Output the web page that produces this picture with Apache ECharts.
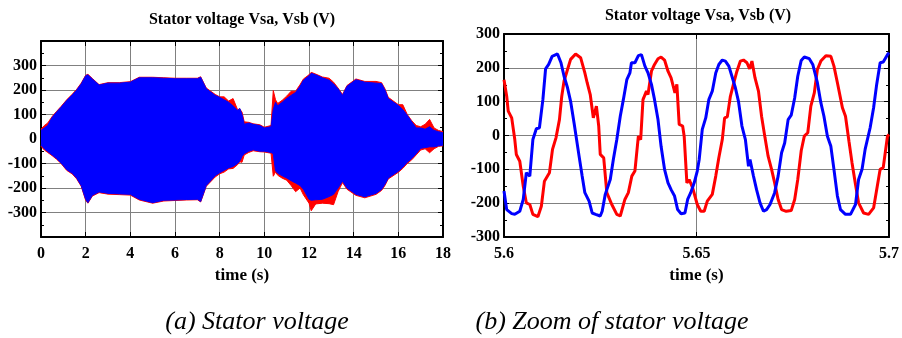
<!DOCTYPE html>
<html>
<head>
<meta charset="utf-8">
<script src="https://cdn.jsdelivr.net/npm/echarts@6/dist/echarts.min.js"></script>
<style>
html,body{margin:0;padding:0;background:#fff;}
#c{width:902px;height:338px;}
</style>
</head>
<body>
<div id="c"></div>
<script>
// ---- (a) full-run stator voltage: envelopes of the dense oscillation ----
var leftT = [0, 0.15, 0.3, 0.5, 0.7, 0.9, 1.15, 1.4, 1.6, 1.8,
  2.0, 2.1, 2.3, 2.6, 3.0, 3.5, 4.0, 4.4, 5.0, 5.5,
  6.0, 6.5, 7.0, 7.15, 7.4, 7.8, 8.0, 8.2, 8.4, 8.6,
  8.8, 8.9, 9.0, 9.1, 9.3, 9.5, 9.8, 10.0, 10.3, 10.4,
  10.5, 10.6, 10.8, 11.0, 11.2, 11.4, 11.6, 11.75, 12.0, 12.1,
  12.3, 12.6, 12.9, 13.1, 13.3, 13.5, 13.7, 14.1, 14.5, 15.0,
  15.25, 15.4, 15.55, 16.0, 16.2, 16.4, 16.6, 16.8, 17.0, 17.2,
  17.4, 17.6, 17.8, 18.0];
var vsbUpper = [35, 45, 55, 88, 110, 130, 157, 180, 200, 225,
  258, 262, 245, 220, 228, 228, 232, 250, 250, 248,
  246, 246, 246, 252, 205, 178, 170, 160, 150, 135,
  117, 125, 100, 60, 65, 60, 55, 45, 50, 120,
  150, 135, 150, 165, 178, 190, 215, 240, 258, 268,
  262, 250, 240, 225, 205, 178, 215, 242, 232, 228,
  226, 200, 165, 137, 120, 97, 70, 45, 45, 40,
  50, 35, 30, 25];
var vsaUpper = [40, 55, 65, 92, 113, 133, 160, 183, 203, 228,
  260, 264, 247, 222, 230, 230, 234, 252, 252, 250,
  248, 248, 248, 254, 208, 182, 172, 172, 155, 165,
  120, 122, 110, 70, 68, 62, 58, 48, 55, 198,
  160, 145, 158, 175, 195, 195, 222, 245, 262, 272,
  265, 253, 248, 232, 208, 182, 218, 245, 235, 235,
  230, 205, 170, 140, 140, 100, 75, 55, 50, 60,
  80, 45, 35, 30];
var vsbLower = [-25, -40, -51, -65, -80, -98, -125, -140, -160, -190,
  -246, -260, -230, -216, -222, -224, -226, -246, -260, -250,
  -249, -247, -246, -255, -190, -150, -138, -128, -118, -112,
  -100, -90, -71, -60, -50, -44, -50, -50, -55, -60,
  -130, -140, -150, -159, -170, -180, -190, -205, -246, -250,
  -248, -246, -235, -226, -200, -172, -200, -226, -236, -222,
  -206, -185, -159, -132, -115, -95, -80, -60, -38, -35,
  -32, -32, -28, -25];
var vsaLower = [-30, -45, -55, -68, -83, -100, -128, -143, -163, -193,
  -250, -262, -233, -219, -225, -227, -229, -249, -262, -253,
  -251, -249, -248, -257, -193, -155, -142, -135, -122, -120,
  -105, -93, -95, -65, -55, -48, -52, -53, -58, -152,
  -135, -148, -160, -168, -190, -215, -200, -228, -262, -293,
  -265, -262, -264, -268, -215, -178, -205, -230, -240, -226,
  -210, -190, -163, -136, -120, -100, -85, -65, -45, -40,
  -56, -40, -30, -28];

// ---- (b) zoom 5.6 - 5.7 s (time given in ms after 5.6 s) ----
var zoomStart = 5.6;
var vsaMs = [0, 0.7, 1.1, 2.0, 2.8, 3.2, 4.1, 5.0, 5.8, 6.7, 7.5, 8.8, 9.7, 10.5, 11.8, 12.6, 13.5, 14.4, 15.0, 15.6,
  16.5, 17.3, 18.6, 19.9, 21.0, 21.6, 22.4, 23.2, 24.0, 24.6, 25.0, 25.9, 26.7, 28.0, 29.3, 30.2, 31.4, 32.3, 33.2, 34.0,
  34.9, 35.5, 36.1, 37.0, 37.4, 38.3, 39.1, 40.0, 40.8, 41.7, 42.6, 43.4, 44.4, 44.9, 45.5, 46.4, 46.8, 47.5, 48.1, 49.0,
  50.2, 51.1, 52.0, 52.8, 54.1, 55.0, 55.8, 56.7, 57.3, 58.0, 58.8, 59.7, 60.5, 61.4, 62.2, 63.1, 63.8, 64.4, 65.2, 66.1,
  66.9, 67.8, 68.6, 69.5, 70.3, 71.2, 72.1, 73.3, 74.6, 75.5, 76.3, 77.2, 78.0, 78.9, 79.7, 80.6, 81.4, 82.3, 83.6, 84.9,
  85.7, 86.6, 87.9, 88.7, 89.6, 90.4, 91.3, 92.1, 93.4, 94.7, 96.0, 96.8, 97.7, 98.5, 99.6, 100];
var vsaZoom = [165, 116, 72, 52, -12, -56, -76, -150, -199, -204, -233, -240, -209, -135, -110, -41, -7, 47, 116, 161,
  195, 225, 241, 230, 185, 156, 121, 52, 87, 28, -56, -66, -169, -204, -233, -238, -189, -169, -120, -105,
  -2, -12, 106, 131, 121, 190, 210, 227, 232, 223, 190, 170, 126, 151, 33, 28, -2, -140, -130, -155,
  -204, -224, -224, -194, -174, -120, -66, -12, 52, 55, 116, 156, 190, 220, 223, 215, 197, 220, 170, 131,
  57, -7, -61, -100, -140, -189, -219, -224, -222, -189, -130, -45, -2, 8, 87, 126, 195, 220, 236, 234,
  205, 156, 82, 57, -17, -81, -145, -199, -229, -233, -214, -160, -100, -95, -2, 3];
var vsbMs = [0, 0.7, 2.0, 2.8, 4.1, 5.0, 5.8, 6.7, 7.5, 8.4, 9.2, 10.1, 10.8, 11.6, 12.5, 13.9, 14.8, 15.6, 16.5, 17.3,
  18.2, 19.5, 20.3, 21.0, 22.1, 22.9, 23.8, 25.0, 25.5, 26.3, 27.6, 28.4, 29.3, 30.2, 31.0, 31.9, 32.7, 33.1, 34.0, 34.9,
  35.7, 36.6, 37.4, 38.3, 39.1, 40.0, 40.8, 41.7, 42.6, 43.4, 44.3, 45.1, 46.0, 47.0, 47.7, 48.5, 49.4, 50.2, 50.7, 51.5,
  52.4, 53.2, 54.1, 55.0, 55.8, 56.7, 57.5, 58.4, 59.2, 60.1, 60.9, 61.8, 62.7, 63.5, 63.9, 64.8, 65.6, 66.5, 67.4, 68.2,
  69.1, 70.3, 71.2, 72.1, 72.9, 73.8, 74.6, 75.5, 76.3, 77.2, 78.0, 79.3, 80.2, 81.4, 82.3, 83.1, 84.0, 84.9, 85.7, 86.6,
  87.4, 88.7, 90.0, 91.3, 92.1, 93.0, 93.8, 95.1, 96.0, 96.8, 97.7, 98.5, 99.6, 100];
var vsbZoom = [-164, -219, -231, -233, -224, -189, -110, -120, -12, 20, 23, 106, 197, 210, 234, 241, 215, 175, 141, 101,
  37, -61, -120, -169, -194, -229, -233, -238, -224, -174, -130, -71, -12, 57, 106, 165, 185, 215, 215, 236,
  239, 205, 185, 151, 106, 47, -32, -100, -140, -160, -179, -219, -231, -229, -189, -169, -140, -105, -71, 18,
  52, 106, 131, 185, 210, 223, 220, 205, 175, 141, 101, 28, -12, -91, -71, -120, -160, -199, -224, -219,
  -204, -169, -120, -51, -22, 47, 60, 111, 175, 222, 232, 227, 210, 156, 97, 57, -2, -32, -100, -179,
  -219, -233, -233, -204, -130, -100, -41, 23, 82, 151, 215, 217, 239, 245];

var leftXTicks = {min: 0, max: 18, interval: 2};
var leftYTicks = {min: -400, max: 400, interval: 100};
var zoomXTicks = {min: 5.6, max: 5.7, interval: 0.05, labels: ['5.6', '5.65', '5.7']};
var zoomYTicks = {min: -300, max: 300, interval: 100};
var titleText = 'Stator voltage Vsa, Vsb (V)';
var xName = 'time (s)';
var captionA = '(a) Stator voltage';
var captionB = '(b) Zoom of stator voltage';

var SERIF = "'Liberation Serif', 'Times New Roman', serif";
var RED = '#ff0000', BLUE = '#0000ff';

function pairs(ts, vs, off, scale) {
  return ts.map(function (t, i) { return [off + t * scale, vs[i]]; });
}
function lbl(extra) {
  return Object.assign({color: '#000', fontFamily: SERIF, fontWeight: 'bold', fontSize: 16}, extra || {});
}
function xAx(grid, tk, pos, main) {
  return {
    type: 'value', gridIndex: grid, position: pos, min: tk.min, max: tk.max, interval: tk.interval,
    axisLine: {show: true, onZero: false, lineStyle: {color: '#000', width: 2}},
    axisTick: {show: true, inside: true, length: 5, lineStyle: {color: '#000', width: 1}},
    axisLabel: main ? lbl({margin: 9, formatter: tk.labels ? function (v) {
      var i = Math.round((v - tk.min) / tk.interval); return tk.labels[i] || '';
    } : function (v) { return String(v); }}) : {show: false},
    splitLine: {show: main, lineStyle: {color: '#808080', width: 1}},
    name: main ? xName : '', nameLocation: 'middle', nameGap: 30,
    nameTextStyle: lbl({fontSize: 17})
  };
}
function yAx(grid, tk, pos, main, hideEnds) {
  return {
    type: 'value', gridIndex: grid, position: pos, min: tk.min, max: tk.max, interval: tk.interval,
    axisLine: {show: true, onZero: false, lineStyle: {color: '#000', width: 2}},
    axisTick: {show: true, inside: true, length: 5, lineStyle: {color: '#000', width: 1}},
    minorTick: {show: true, splitNumber: 2, length: 3, lineStyle: {color: '#000', width: 1}},
    axisLabel: main ? lbl({margin: 4, formatter: function (v) {
      if (hideEnds && (v === tk.min || v === tk.max)) return '';
      return String(v);
    }}) : {show: false},
    splitLine: {show: main, lineStyle: {color: '#808080', width: 1}}
  };
}
function area(name, data, color) {
  return {
    name: name, type: 'line', xAxisIndex: 0, yAxisIndex: 0, data: data, showSymbol: false, symbol: 'none',
    lineStyle: {color: color, width: 1}, areaStyle: {color: color, opacity: 1, origin: 0},
    itemStyle: {color: color}, silent: true, animation: false
  };
}

var chart = echarts.init(document.getElementById('c'), null, {renderer: 'canvas'});
chart.setOption({
  backgroundColor: '#fff',
  animation: false,
  grid: [
    {left: 41, top: 41, width: 402, height: 196, containLabel: false},
    {left: 504, top: 34, width: 390, height: 203, containLabel: false}
  ],
  xAxis: [
    xAx(0, leftXTicks, 'bottom', true),
    xAx(0, leftXTicks, 'top', false),
    xAx(1, zoomXTicks, 'bottom', true),
    xAx(1, zoomXTicks, 'top', false)
  ],
  yAxis: [
    yAx(0, leftYTicks, 'left', true, true),
    yAx(0, leftYTicks, 'right', false),
    yAx(1, zoomYTicks, 'left', true, false),
    yAx(1, zoomYTicks, 'right', false)
  ],
  series: [
    area('Vsa+', pairs(leftT, vsaUpper, 0, 1), RED),
    area('Vsa-', pairs(leftT, vsaLower, 0, 1), RED),
    area('Vsb+', pairs(leftT, vsbUpper, 0, 1), BLUE),
    area('Vsb-', pairs(leftT, vsbLower, 0, 1), BLUE),
    {name: 'Vsa zoom', type: 'line', xAxisIndex: 2, yAxisIndex: 2, data: pairs(vsaMs, vsaZoom, zoomStart, 0.001),
      symbol: 'none', lineStyle: {color: RED, width: 3}, itemStyle: {color: RED}, silent: true},
    {name: 'Vsb zoom', type: 'line', xAxisIndex: 2, yAxisIndex: 2, data: pairs(vsbMs, vsbZoom, zoomStart, 0.001),
      symbol: 'none', lineStyle: {color: BLUE, width: 3}, itemStyle: {color: BLUE}, silent: true}
  ],
  graphic: [
    {type: 'text', x: 242, y: 20, style: {text: titleText, fill: '#000', font: 'bold 16px ' + SERIF, textAlign: 'center', textVerticalAlign: 'middle'}},
    {type: 'text', x: 698, y: 16, style: {text: titleText, fill: '#000', font: 'bold 16px ' + SERIF, textAlign: 'center', textVerticalAlign: 'middle'}},
    {type: 'text', x: 257, y: 322, style: {text: captionA, fill: '#000', font: 'italic 26px ' + SERIF, textAlign: 'center', textVerticalAlign: 'middle'}},
    {type: 'text', x: 612, y: 322, style: {text: captionB, fill: '#000', font: 'italic 26px ' + SERIF, textAlign: 'center', textVerticalAlign: 'middle'}}
  ]
});
</script>
</body>
</html>
